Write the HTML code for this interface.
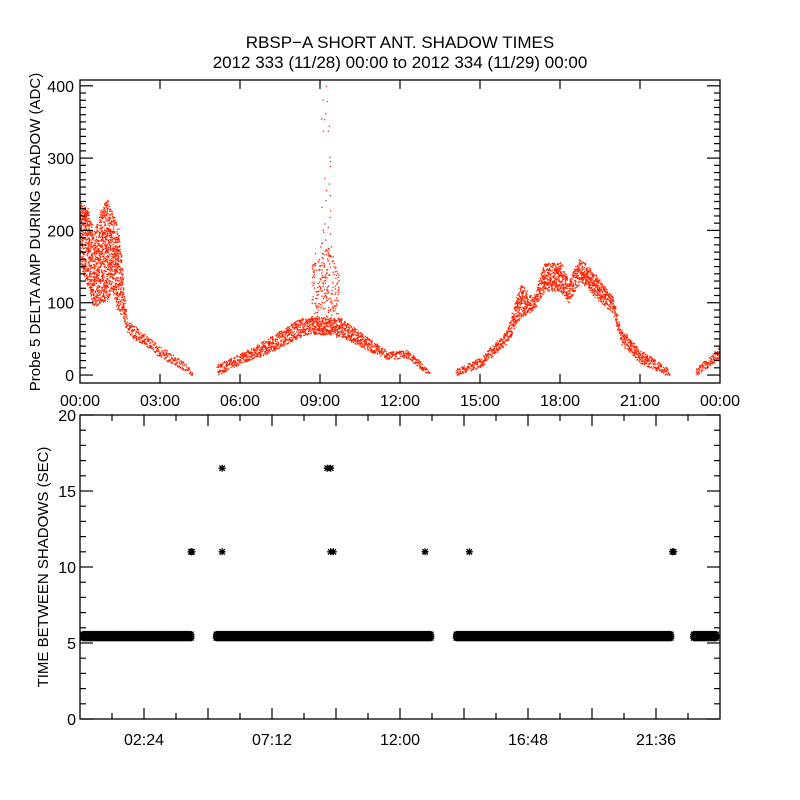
<!DOCTYPE html>
<html><head><meta charset="utf-8"><style>
html,body{margin:0;padding:0;background:#fff;}
svg{display:block;font-family:"Liberation Sans",sans-serif;}
</style></head><body>
<svg id="c" width="800" height="800" viewBox="0 0 800 800" xmlns="http://www.w3.org/2000/svg">
<rect width="800" height="800" fill="#fff"/>
<text x="400" y="48" text-anchor="middle" font-size="17">RBSP−A SHORT ANT. SHADOW TIMES</text>
<text x="400" y="68" text-anchor="middle" font-size="17">2012 333 (11/28) 00:00 to 2012 334 (11/29) 00:00</text>
<g id="topPanel"></g>
<g id="botPanel"></g>
</svg>
<script>
// ---- top panel data: envelope of scatter (hours, low, high ADC) ----
const seg1T=[0,0.3,0.5,0.8,1.0,1.2,1.4,1.6,1.75,2.0,2.5,3.0,3.5,4.0,4.2];
const seg1Lo=[150,120,95,100,100,120,90,80,60,50,40,25,15,5,0];
const seg1Hi=[240,230,200,230,245,225,210,140,75,70,55,40,28,15,4];
const seg2T=[5.14,6.0,7.0,8.25,8.6,9.75,10.75,11.5,12.25,12.8,13.1];
const seg2Lo=[0,15,30,53,58,54,35,23,23,8,0];
const seg2Hi=[15,30,50,79,80,80,53,33,35,18,5];
const seg3T=[14.1,15.0,16.0,16.5,17.0,17.4,18.0,18.3,18.75,19.4,20.0,20.25,21.0,22.0,22.1];
const seg3Lo=[0,11,44,80,90,117,117,100,131,104,86,44,17,0,0];
const seg3Hi=[10,24,62,127,108,155,157,131,163,135,108,66,35,11,5];
const seg4T=[23.1,23.5,24];
const seg4Lo=[0,10,24];
const seg4Hi=[12,22,40];
const spikeBaseT=[8.7,8.85,9.1,9.4,9.7];
const spikeBaseLo=[55,60,60,60,55];
const spikeBaseHi=[170,150,200,170,140];
const spikeT=[9.22,9.09,9.25,9.19,9.04,9.15,9.1,9.29,9.33,9.35,9.37,9.37,9.16,9.33,9.22,9.37,9.2,9.04,9.37,9.35,9.16,9.29,9.1,9.37,9.04,9.41,9.22,8.81,9.1,9.47,8.81,9.37,9.22,9.47,9.66,8.75,9.1,9.47,9.66,8.72,9.22,9.54,8.85,9.29,9.6,8.9,9.22,9.54,8.85,9.2,9.6];
const spikeV=[400,381,379,362,355,354,338,338,345,302,296,289,273,265,256,249,242,233,228,219,210,205,201,196,183,178,173,169,162,164,155,150,141,143,136,127,127,122,118,109,109,104,95,90,86,76,72,67,63,58,53];
// ---- bottom panel data ----
const bandStart=[0,5.0,14.0,22.9];
const bandEnd=[4.3,13.3,22.3,24];
const bandValue=5.5;
const outT=[4.16,4.2,5.33,9.4,9.5,12.94,14.6,22.22,22.26,5.33,9.27,9.4];
const outV=[11,11,11,11,11,11,11,11,11,16.5,16.5,16.5];
const topYTicks=[0,100,200,300,400];
const topXLabels=["00:00","03:00","06:00","09:00","12:00","15:00","18:00","21:00","00:00"];
const botYTicks=[0,5,10,15,20];
const botXLabels=["02:24","07:12","12:00","16:48","21:36"];

const NS="http://www.w3.org/2000/svg";
function mk(p,tag,at){const e=document.createElementNS(NS,tag);for(const k in at)e.setAttribute(k,at[k]);p.appendChild(e);return e;}
const L=80,R=720;
const xs=h=>L+h/24*(R-L);
const T0=80,T1=383,yMinT=-11,yMaxT=408;
const ysT=v=>T1-(v-yMinT)/(yMaxT-yMinT)*(T1-T0);
const B0=415,B1=719;
const ysB=v=>B1-v/20*(B1-B0);
const gTop=document.getElementById('topPanel'),gBot=document.getElementById('botPanel');

function axesFrame(g,y0,y1,name){
  const r=mk(g,'rect',{x:L,y:y0,width:R-L,height:y1-y0,fill:'none',stroke:'#000','stroke-width':1.3});
  
  
}
function tick(g,x1,y1,x2,y2){mk(g,'line',{x1:x1,y1:y1,x2:x2,y2:y2,stroke:'#000','stroke-width':1.2});}

function interp(T,A,t){for(let i=0;i<T.length-1;i++){if(t>=T[i]&&t<=T[i+1]){const f=(t-T[i])/((T[i+1]-T[i])||1);return A[i]+f*(A[i+1]-A[i]);}}return A[A.length-1];}
// deterministic integer hash used only for dot placement texture within envelope
let hs=12345;
function hashFrac(){hs^=hs<<13;hs^=hs>>>17;hs^=hs<<5;hs>>>=0;return (hs%10000)/10000;}
function band(T,Lo,Hi,name,dens){
  let d='';
  const xa=xs(T[0]),xb=xs(T[T.length-1]);
  for(let x=xa;x<=xb;x+=0.7){
    const t=(x-L)/(R-L)*24;
    const lo=ysT(interp(T,Lo,t)),hi=ysT(interp(T,Hi,t));
    const span=Math.abs(lo-hi);
    const n=Math.max(2,Math.round(span*dens));
    for(let j=0;j<n;j++){const f=hashFrac();const jx=(hashFrac()-0.5)*1.2;const y=hi+f*(lo-hi);const xx=Math.min(R-1.3,Math.max(L,x+jx));d+='M'+xx.toFixed(1)+' '+y.toFixed(1)+'h1.3v1.3h-1.3z';}
  }
  const p=mk(gTop,'path',{d:d,fill:'#ff2200'});
  
  
}
band(seg1T,seg1Lo,seg1Hi,'amp-series-segment-1',0.32);
band(seg2T,seg2Lo,seg2Hi,'amp-series-segment-2',0.4);
band(seg3T,seg3Lo,seg3Hi,'amp-series-segment-3',0.4);
band(seg4T,seg4Lo,seg4Hi,'amp-series-segment-4',0.4);
band(spikeBaseT,spikeBaseLo,spikeBaseHi,'amp-spike-base',0.08);
{let d='';for(let i=0;i<spikeT.length;i++){d+='M'+xs(spikeT[i]).toFixed(1)+' '+ysT(spikeV[i]).toFixed(1)+'h1.3v1.3h-1.3z';}
const p=mk(gTop,'path',{d:d,fill:'#ff2200'});

}

axesFrame(gTop,T0,T1,'amp-plot-frame');
for(let v=0;v<=400;v+=10){const y=ysT(v);const l=(v%100===0)?13:6;tick(gTop,L,y,L+l,y);tick(gTop,R,y,R-l,y);}
topYTicks.forEach(v=>{const t=mk(gTop,'text',{x:74,y:ysT(v)+6,'text-anchor':'end','font-size':16});t.textContent=v;

});
topXLabels.forEach((s,i)=>{const x=xs(i*3);if(i>0&&i<8){tick(gTop,x,T1,x,T1-9);tick(gTop,x,T0,x,T0+9);}
const t=mk(gTop,'text',{x:x,y:406,'text-anchor':'middle','font-size':16});t.textContent=s;

});
{const t=mk(gTop,'text',{x:0,y:0,'text-anchor':'middle','font-size':15,transform:'translate(40,232) rotate(-90)'});t.textContent='Probe 5 DELTA AMP DURING SHADOW (ADC)';

}

function star(x,y){return 'M'+(x-3.5)+' '+y+'h7M'+x+' '+(y-3.5)+'v7M'+(x-2.7)+' '+(y-2.7)+'l5.4 5.4M'+(x-2.7)+' '+(y+2.7)+'l5.4 -5.4';}
bandStart.forEach((s,i)=>{let d='';const y=ysB(bandValue);for(let x=xs(s)+3;x<=xs(bandEnd[i])-3;x+=1.5){d+=star(x,y-1);d+=star(x,y+1);d+=star(x,y+2.5);}
const p=mk(gBot,'path',{d:d,stroke:'#000','stroke-width':1.3,fill:'none'});

});
{let d='';outT.forEach((t,i)=>{d+=star(xs(t),ysB(outV[i]));});
const p=mk(gBot,'path',{d:d,stroke:'#000','stroke-width':1.3,fill:'none'});

}

axesFrame(gBot,B0,B1,'time-plot-frame');
for(let v=0;v<=20;v++){const y=ysB(v);const l=(v%5===0)?13:6;tick(gBot,L,y,L+l,y);tick(gBot,R,y,R-l,y);}
botYTicks.forEach(v=>{const t=mk(gBot,'text',{x:76,y:ysB(v)+6,'text-anchor':'end','font-size':16});t.textContent=v;

});
for(let i=1;i<20;i++){const x=xs(i*1.2);const l=(i%2===0)?11:6;tick(gBot,x,B1,x,B1-l);tick(gBot,x,B0,x,B0+l);}
botXLabels.forEach((s,i)=>{const t=mk(gBot,'text',{x:xs(2.4+i*4.8),y:745,'text-anchor':'middle','font-size':16});t.textContent=s;

});
{const t=mk(gBot,'text',{x:0,y:0,'text-anchor':'middle','font-size':15,transform:'translate(48,567) rotate(-90)'});t.textContent='TIME BETWEEN SHADOWS (SEC)';

}
</script>
</body></html>
